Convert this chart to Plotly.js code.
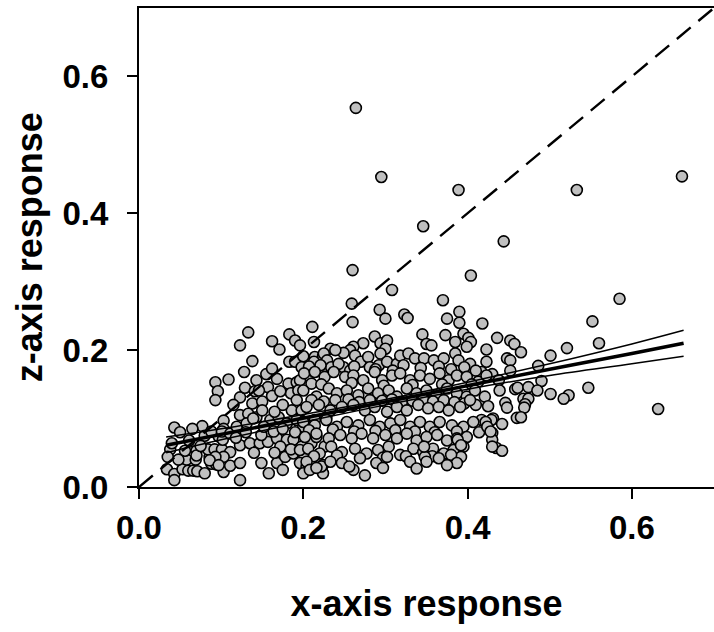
<!DOCTYPE html>
<html>
<head>
<meta charset="utf-8">
<script src="https://cdn.plot.ly/plotly-3.0.1.min.js"></script>
<style>html,body{margin:0;padding:0;background:#fff;}#chart{width:714px;height:632px;}</style>
</head>
<body>
<div id="chart"></div>
<script>
// observed points (x-axis response, z-axis response)
const pointsX = [
0.661,0.533,0.444,0.585,0.552,0.560,0.521,0.501,0.486,0.490,0.547,0.523,0.517,0.501,0.632,0.436,0.452,0.457,0.465,0.448,0.452,0.452,0.430,0.438,0.439,0.458,0.461,0.474,0.485,0.468,0.474,0.470,0.469,0.446,0.448,0.460,0.465,0.431,0.442,0.430,0.430,0.435,0.442,0.418,0.423,
0.093,0.096,0.093,0.109,0.043,0.077,0.103,0.038,0.035,0.034,0.043,0.043,0.053,0.060,0.066,0.071,0.058,0.069,0.056,0.070,0.070,0.086,0.088,0.094,0.103,0.084,0.092,0.101,0.040,0.097,0.102,0.103,0.061,
0.050,0.065,0.080,0.075,0.048,0.080,
0.133,0.123,0.162,0.171,0.183,0.190,0.211,0.213,0.138,0.128,0.123,0.129,0.141,0.143,0.155,0.162,0.168,0.157,0.162,0.146,0.138,0.123,0.133,0.143,0.183,0.190,0.200,0.198,0.211,0.182,0.192,0.200,0.196,0.185,0.194,0.192,0.186,0.198,0.210,0.218,0.214,0.224,0.224,0.088,0.101,0.111,0.119,0.131,0.139,0.123,0.135,0.147,0.157,0.168,0.180,0.111,0.103,0.093,0.086,0.097,0.111,0.123,0.123,0.149,0.168,0.178,0.188,0.200,0.196,0.204,0.200,0.172,0.188,0.198,0.210,0.216,0.226,0.224,0.224,0.160,0.170,0.180,0.192,0.200,0.214,0.228,0.149,0.164,
0.130,0.152,0.175,0.140,0.165,0.185,0.118,0.158,0.175,0.190,0.150,0.172,0.175,0.165,0.115,0.150,
0.264,0.295,0.389,0.346,0.260,0.404,0.308,
0.259,0.260,0.293,0.300,0.323,0.327,0.370,0.375,0.390,0.390,0.345,0.350,0.356,0.373,0.385,0.395,0.401,0.404,0.399,0.287,0.294,0.302,0.300,0.294,0.273,0.261,0.257,0.249,0.263,0.233,0.239,0.225,0.196,
0.213,0.229,0.234,0.249,0.257,0.270,0.279,0.281,0.292,0.302,0.314,0.318,0.328,0.336,0.347,0.359,0.371,0.385,0.389,0.403,0.423,0.417,
0.207,0.221,0.243,0.262,0.288,0.309,0.322,0.343,0.365,0.380,0.396,0.410,
0.201,0.214,0.226,0.237,0.251,0.261,0.273,0.287,0.296,0.308,0.318,0.330,0.342,0.354,0.366,0.377,0.387,0.399,0.413,0.423,
0.222,0.259,0.298,0.333,0.369,0.405,
0.200,0.216,0.231,0.241,0.253,0.267,0.279,0.291,0.304,0.314,0.326,0.338,0.350,0.362,0.375,0.387,0.399,0.409,0.421,
0.210,0.225,0.239,0.255,0.268,0.281,0.296,0.308,0.320,0.333,0.346,0.358,0.371,0.384,0.396,0.410,0.425,
0.204,0.219,0.233,0.247,0.261,0.275,0.287,0.302,0.314,0.326,0.340,0.352,0.365,0.377,0.391,0.403,0.417,0.429,
0.200,0.214,0.228,0.241,0.253,0.267,0.281,0.293,0.306,0.318,0.330,0.342,0.354,0.366,0.381,0.395,0.407,
0.207,0.236,0.262,0.288,0.312,0.336,0.360,0.387,0.414,
0.202,0.216,0.231,0.245,0.259,0.271,0.285,0.300,0.314,0.326,0.338,0.350,0.363,0.375,0.387,0.399,
0.196,0.206,0.220,0.234,0.247,0.263,0.277,0.291,0.304,0.318,0.334,0.346,0.358,0.371,0.383,0.395,
0.213,0.241,0.269,0.297,0.325,0.357,0.392,
0.204,0.208,0.222,0.233,0.247,0.261,0.275,0.289,0.302,0.330,0.348,0.350,0.365,0.380,0.387,
0.216,0.256,0.297,0.338,0.375,
0.347,0.388,0.392,0.422,0.424,0.428,0.430
];
const pointsZ = [
0.454,0.434,0.359,0.275,0.242,0.210,0.203,0.192,0.177,0.155,0.145,0.134,0.129,0.136,0.114,0.218,0.214,0.209,0.197,0.188,0.185,0.170,0.165,0.156,0.141,0.143,0.145,0.146,0.141,0.129,0.129,0.121,0.116,0.123,0.116,0.101,0.102,0.100,0.092,0.079,0.069,0.057,0.053,0.239,0.201,
0.153,0.140,0.127,0.157,0.087,0.089,0.097,0.055,0.044,0.026,0.019,0.010,0.026,0.024,0.024,0.023,0.040,0.040,0.053,0.053,0.046,0.044,0.034,0.033,0.022,0.055,0.055,0.055,0.064,0.074,0.069,0.085,0.068,
0.080,0.085,0.075,0.060,0.040,0.020,
0.226,0.207,0.213,0.201,0.223,0.214,0.234,0.212,0.184,0.168,0.131,0.145,0.140,0.156,0.165,0.173,0.158,0.146,0.133,0.141,0.122,0.105,0.107,0.102,0.183,0.183,0.191,0.175,0.170,0.151,0.153,0.149,0.156,0.137,0.141,0.127,0.112,0.112,0.151,0.127,0.190,0.191,0.171,0.081,0.081,0.078,0.088,0.093,0.100,0.061,0.064,0.064,0.066,0.071,0.069,0.051,0.044,0.044,0.039,0.032,0.031,0.035,0.010,0.035,0.035,0.044,0.049,0.049,0.035,0.030,0.020,0.059,0.069,0.059,0.064,0.073,0.059,0.032,0.020,0.098,0.102,0.093,0.098,0.088,0.098,0.102,0.076,0.081,
0.080,0.088,0.085,0.050,0.050,0.055,0.072,0.020,0.025,0.080,0.125,0.140,0.120,0.110,0.120,0.112,
0.554,0.453,0.434,0.381,0.317,0.309,0.288,
0.268,0.241,0.259,0.246,0.252,0.247,0.273,0.246,0.256,0.240,0.223,0.209,0.207,0.222,0.212,0.224,0.218,0.212,0.205,0.220,0.210,0.214,0.202,0.195,0.210,0.205,0.200,0.196,0.192,0.202,0.200,0.195,0.207,
0.183,0.185,0.175,0.175,0.170,0.183,0.190,0.175,0.178,0.183,0.180,0.192,0.195,0.188,0.188,0.185,0.188,0.195,0.185,0.180,0.183,0.168,
0.176,0.178,0.180,0.176,0.172,0.170,0.178,0.174,0.176,0.172,0.175,0.170,
0.166,0.168,0.161,0.168,0.161,0.163,0.156,0.168,0.156,0.163,0.166,0.156,0.163,0.158,0.166,0.156,0.163,0.161,0.154,0.163,
0.150,0.152,0.148,0.149,0.150,0.150,
0.141,0.132,0.144,0.137,0.141,0.134,0.144,0.137,0.141,0.132,0.144,0.137,0.141,0.134,0.144,0.137,0.132,0.141,0.132,
0.127,0.125,0.127,0.128,0.124,0.127,0.126,0.128,0.124,0.126,0.128,0.125,0.127,0.124,0.122,0.120,0.118,
0.117,0.120,0.112,0.117,0.120,0.112,0.117,0.110,0.117,0.112,0.120,0.115,0.117,0.112,0.117,0.127,0.098,0.098,
0.095,0.090,0.098,0.088,0.095,0.090,0.098,0.088,0.093,0.098,0.088,0.095,0.088,0.095,0.090,0.088,0.095,
0.083,0.084,0.081,0.082,0.083,0.081,0.080,0.081,0.080,
0.073,0.078,0.071,0.076,0.071,0.078,0.071,0.076,0.071,0.078,0.068,0.073,0.076,0.068,0.071,0.073,
0.054,0.056,0.049,0.059,0.051,0.056,0.049,0.054,0.059,0.047,0.056,0.051,0.056,0.049,0.054,0.059,
0.045,0.046,0.042,0.043,0.045,0.045,0.044,
0.037,0.025,0.030,0.037,0.035,0.025,0.017,0.035,0.044,0.037,0.044,0.037,0.042,0.047,0.035,
0.028,0.030,0.028,0.027,0.032,
0.059,0.069,0.061,0.095,0.088,0.081,0.059
];

// fitted regression line and confidence band
const fitX = [0.033, 0.1, 0.2, 0.3, 0.4, 0.5, 0.6, 0.663];
const fitY = [0.061, 0.077, 0.100, 0.124, 0.148, 0.172, 0.195, 0.210];
const ciUpper = [0.073, 0.085, 0.106, 0.128, 0.153, 0.180, 0.209, 0.229];
const ciLower = [0.050, 0.069, 0.095, 0.120, 0.143, 0.163, 0.180, 0.191];

// 1:1 reference line
const refX = [0, 0.7];
const refY = [0, 0.7];

const xTicks = [0, 0.2, 0.4, 0.6];
const yTicks = [0, 0.2, 0.4, 0.6];

const traces = [
  {x: pointsX, y: pointsZ, type: 'scatter', mode: 'markers',
   marker: {size: 11, color: '#c0c0c0', line: {color: '#000', width: 1.6}}},
  {x: refX, y: refY, type: 'scatter', mode: 'lines', line: {color: '#000', width: 2.4, dash: '18px,10px'}},
  {x: fitX, y: ciUpper, type: 'scatter', mode: 'lines', line: {color: '#000', width: 1.5, shape: 'spline'}},
  {x: fitX, y: ciLower, type: 'scatter', mode: 'lines', line: {color: '#000', width: 1.5, shape: 'spline'}},
  {x: fitX, y: fitY, type: 'scatter', mode: 'lines', line: {color: '#000', width: 3.5}}
];

const fontFam = '"Liberation Sans", Arial, sans-serif';
const layout = {
  width: 714, height: 632,
  margin: {l: 139, r: 0, t: 8, b: 145, pad: 0},
  showlegend: false,
  paper_bgcolor: '#fff', plot_bgcolor: '#fff',
  font: {family: fontFam, color: '#000'},
  xaxis: {
    range: [0, 0.7], tickvals: xTicks, ticktext: xTicks.map(v => v.toFixed(1)),
    showgrid: false, zeroline: false, showline: true, mirror: true,
    linecolor: '#000', linewidth: 2, ticks: 'outside', ticklen: 10, tickwidth: 2, tickcolor: '#000',
    tickfont: {family: fontFam, size: 33, color: '#000', weight: 'bold'},
    title: {text: '<b>x-axis response</b>', font: {family: fontFam, size: 36, color: '#000'}, standoff: 46}
  },
  yaxis: {
    range: [0, 0.7], tickvals: yTicks, ticktext: yTicks.map(v => v.toFixed(1)),
    showgrid: false, zeroline: false, showline: true, mirror: false,
    linecolor: '#000', linewidth: 2, ticks: 'outside', ticklen: 10, tickwidth: 2, tickcolor: '#000',
    ticklabelstandoff: 12,
    tickfont: {family: fontFam, size: 33, color: '#000', weight: 'bold'},
    title: {text: ''}
  },
  annotations: [{
    text: '<b>z-axis response</b>', xref: 'paper', yref: 'paper', x: -0.19, y: 0.5,
    xanchor: 'center', yanchor: 'middle', textangle: -90, showarrow: false,
    font: {family: fontFam, size: 36, color: '#000'}
  }]
};

Plotly.newPlot('chart', traces, layout, {displayModeBar: false, staticPlot: true});
</script>
</body>
</html>
